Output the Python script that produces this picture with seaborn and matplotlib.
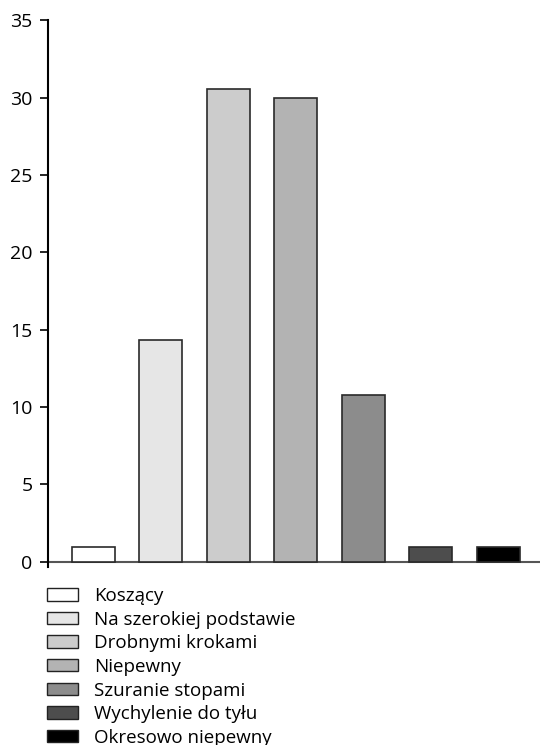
import matplotlib
matplotlib.use("Agg")
import matplotlib.pyplot as plt
import matplotlib.patches as mpatches
import seaborn as sns
import pandas as pd

# data
categories = [
    "Koszący",
    "Na szerokiej podstawie",
    "Drobnymi krokami",
    "Niepewny",
    "Szuranie stopami",
    "Wychylenie do tyłu",
    "Okresowo niepewny",
]
values = [0.93, 14.33, 30.56, 30.0, 10.78, 0.93, 0.93]
colors = ["#ffffff", "#e6e6e6", "#cccccc", "#b3b3b3", "#8c8c8c", "#4d4d4d", "#000000"]
yticks = [0, 5, 10, 15, 20, 25, 30, 35]

sns.set_style("white")
plt.rcParams["font.family"] = ["Open Sans", "DejaVu Sans"]
plt.rcParams["text.color"] = "black"
plt.rcParams["ytick.color"] = "black"

df = pd.DataFrame({"category": categories, "value": values})

fig = plt.figure(figsize=(5.41, 7.45), dpi=100)
ax = fig.add_axes([48 / 541, (745 - 567) / 745, 492 / 541, (567 - 20.4) / 745])

sns.barplot(
    data=df,
    x="category",
    y="value",
    hue="category",
    palette=colors,
    width=0.64,
    edgecolor="#2a2a2a",
    linewidth=1.2,
    legend=False,
    ax=ax,
)

ax.set_ylim(-0.35, 35)
ax.set_xlim(-0.67, 6.62)
ax.axhline(0, color="#555555", linewidth=1.5, zorder=0)
ax.set_yticks(yticks)
ax.set_xticks([])
ax.set_xlabel("")
ax.set_ylabel("")
ax.tick_params(axis="y", direction="out", length=6, width=1.2, pad=5,
               labelsize=14, left=True, colors="black")

for side in ["top", "right", "bottom"]:
    ax.spines[side].set_visible(False)
ax.spines["left"].set_color("black")
ax.spines["left"].set_linewidth(1.5)

handles = [
    mpatches.Patch(facecolor=c, edgecolor="#222222", linewidth=1.0, label=lab)
    for c, lab in zip(colors, categories)
]
leg = fig.legend(
    handles=handles,
    loc="upper left",
    bbox_to_anchor=(47 / 541, (745 - 587) / 745),
    frameon=False,
    fontsize=13.5,
    handlelength=1.65,
    handleheight=0.64,
    handletextpad=0.85,
    labelspacing=0.3,
    borderaxespad=0,
    borderpad=0,
)
for t in leg.get_texts():
    t.set_color("black")

fig.savefig("out.png", dpi=100)
